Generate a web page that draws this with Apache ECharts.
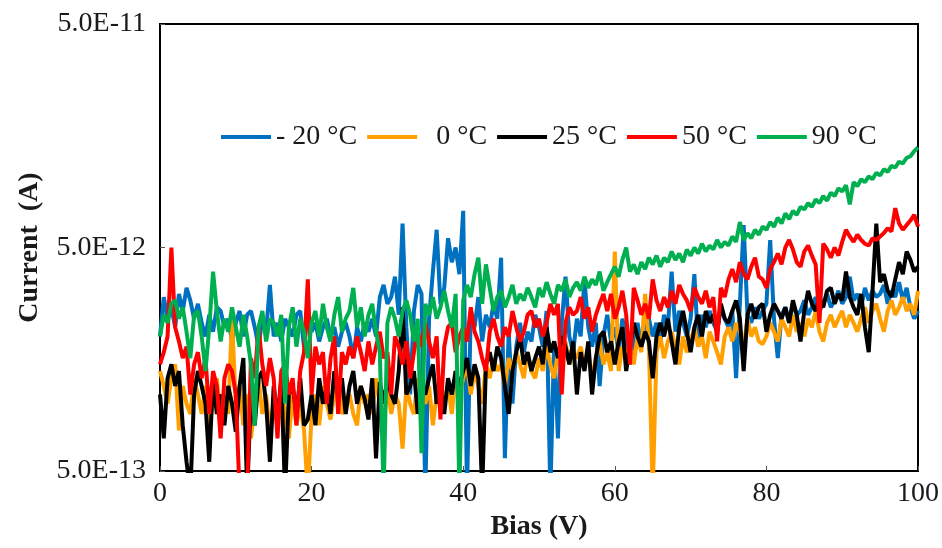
<!DOCTYPE html>
<html lang="en" style="height: 100%">
<head>
    <meta http-equiv="Content-Type" content="text/html; charset=utf-8"/>
    <title>Current vs Bias</title>
    <script type="text/javascript" src="https://cdn.jsdelivr.net/npm/echarts@6/dist/echarts.min.js"></script>
</head>
<body style="height: 100%; margin: 0; background: #fff">
<div id="container" style="width: 942px; height: 548px"></div>
<script type="text/javascript">
    // bias sweep 0..100 V, one reading every 0.5 V
    var biasStep = 0.5;
    var xTicks = [0, 20, 40, 60, 80, 100];
    var yTickLabels = ['5.0E-13', '5.0E-12', '5.0E-11'];
    var seriesNames = ['- 20 °C', '  0 °C', '25 °C', '50 °C', '90 °C'];
    var seriesColors = ['#0070C0', '#FFA000', '#000000', '#FF0000', '#00B050'];

    // current readings in pA (1 pA = 1E-12 A)
    var curM20 = [
        2.0, 3.0, 2.4, 2.7, 2.2, 3.1, 2.6, 3.3, 2.9, 2.4,
        2.8, 2.3, 2.0, 2.5, 2.1, 2.7, 2.6, 2.2, 2.4, 1.9,
        2.3, 2.6, 2.0, 2.5, 2.6, 2.2, 1.8, 2.4, 2.1, 3.4,
        2.0, 2.3, 1.9, 2.4, 2.2, 2.0, 2.5, 2.6, 1.8, 2.6,
        2.1, 2.3, 1.9, 2.2, 2.4, 2.0, 2.2, 1.8, 2.1, 2.3,
        2.0, 1.6, 2.2, 1.9, 2.3, 2.1, 2.4, 2.0, 3.0, 3.4,
        2.8, 3.0, 3.7, 2.5, 6.4, 2.2, 1.1, 2.6, 3.4, 3.1,
        0.4, 2.4, 3.9, 6.0, 2.8, 3.3, 5.5, 4.3, 5.0, 3.8,
        7.3, 0.4, 2.6, 2.2, 3.0, 1.9, 2.5, 2.2, 2.8, 2.4,
        4.5, 0.57, 2.1, 1.0, 1.8, 2.3, 1.7, 2.1, 1.9, 2.5,
        2.2, 1.8, 2.6, 0.4, 1.9, 0.7, 2.3, 3.7, 2.0, 1.7,
        2.4, 2.0, 3.6, 2.2, 1.8, 2.3, 1.2, 2.0, 2.5, 1.9,
        2.2, 1.7, 2.4, 2.0, 1.5, 1.9, 2.3, 1.8, 2.1, 2.4,
        2.0, 2.3, 1.9, 2.5, 2.2, 3.9, 2.1, 2.6, 2.3, 2.0,
        2.4, 3.8, 1.8, 2.5, 2.2, 2.6, 2.3, 2.1, 2.7, 2.4,
        2.2, 2.6, 1.3, 2.8, 6.3, 2.5, 2.3, 2.7, 2.4, 2.6,
        2.8, 5.4, 2.4, 1.6, 2.5, 2.7, 2.3, 2.8, 2.5, 2.6,
        2.9, 2.5, 2.7, 3.0, 2.6, 2.8, 3.1, 2.7, 2.9, 3.2,
        2.8, 3.0, 3.7, 2.9, 3.1, 2.7, 3.3, 2.9, 3.2, 3.0,
        3.1, 3.4, 2.8, 3.2, 3.0, 3.5, 2.9, 3.3, 2.7, 2.4,
        2.6
    ];
    var cur0 = [
        1.4, 1.2, 1.0, 1.3, 1.5, 0.76, 1.2, 1.0, 0.9, 1.3,
        1.1, 0.9, 1.2, 0.8, 1.0, 1.3, 0.85, 1.1, 0.9, 2.4,
        1.0, 1.2, 0.8, 1.1, 0.7, 1.0, 1.3, 0.9, 1.1, 0.75,
        1.0, 0.8, 1.2, 0.9, 0.7, 1.1, 0.8, 1.0, 0.76, 0.4,
        0.9, 1.1, 0.8, 1.2, 1.0, 0.85, 1.1, 1.3, 0.9, 1.0,
        1.1, 0.9, 0.8, 1.2, 1.0, 1.1, 0.9, 1.3, 1.0, 0.8,
        1.2, 0.9, 1.1, 1.0, 0.63, 1.2, 1.0, 0.9, 1.3, 1.1,
        1.0, 1.2, 0.8, 1.1, 1.3, 1.0, 1.2, 0.9, 1.4, 1.1,
        1.3, 1.5, 1.1, 1.4, 1.2, 1.0, 1.5, 1.3, 1.6, 1.4,
        1.5, 1.2, 1.6, 1.4, 1.7, 1.5, 1.3, 1.7, 1.4, 1.3,
        1.6, 1.4, 1.8, 1.5, 1.3, 1.7, 1.6, 1.9, 1.5, 1.7,
        1.6, 1.8, 1.5, 1.7, 1.3, 1.6, 1.9, 1.5, 1.7, 1.4,
        4.8, 1.4, 1.8, 1.6, 1.9, 1.5, 2.0, 1.7, 3.1, 1.8,
        0.4, 1.7, 2.0, 1.6, 1.9, 2.1, 1.8, 1.5, 2.0, 1.7,
        1.9, 2.2, 1.8, 2.0, 1.6, 2.1, 1.9, 1.7, 1.5, 2.0,
        2.2, 1.9, 2.3, 2.1, 1.8, 2.4, 2.0, 2.2, 1.9, 1.85,
        2.0, 2.3, 2.1, 1.9, 2.4, 2.2, 2.0, 2.5, 2.1, 2.3,
        2.0, 2.4, 2.2, 2.6, 2.1, 1.9, 2.3, 2.5, 2.2, 2.4,
        2.6, 2.2, 2.5, 2.3, 2.1, 2.4, 2.7, 2.3, 2.6, 2.8,
        2.4, 2.1, 2.6, 2.9, 2.5, 2.7, 3.0, 2.6, 2.8, 2.5,
        3.2
    ];
    var cur25 = [
        1.1, 0.7, 1.3, 1.5, 1.2, 1.4, 0.8, 0.55, 0.4, 1.1,
        1.4, 1.2, 1.0, 0.55, 1.3, 0.9, 1.1, 0.8, 1.2, 1.0,
        0.75, 1.2, 1.6, 0.4, 1.1, 0.8, 1.3, 1.4, 1.0, 0.55,
        1.2, 0.85, 1.3, 0.4, 1.1, 1.2, 0.9, 1.3, 0.8, 0.85,
        1.1, 0.8, 1.3, 1.0, 1.2, 0.9, 1.4, 1.1, 1.3, 0.9,
        1.2, 1.4, 1.0, 1.2, 1.05, 0.85, 1.3, 0.57, 1.25, 1.0,
        1.3, 1.1, 1.0, 1.4, 2.7, 1.1, 1.2, 1.4, 0.9, 1.2,
        1.1, 1.3, 1.5, 1.0, 1.2, 0.9, 1.3, 1.1, 1.4, 1.2,
        1.4, 1.6, 1.2, 1.5, 1.3, 0.4, 1.5, 1.7, 1.4, 1.8,
        1.6, 1.2, 0.9, 1.4, 1.7, 2.0, 1.5, 1.7, 1.4, 1.6,
        1.8, 1.5, 2.2, 1.7, 1.9, 1.6, 2.0, 1.8, 1.5, 1.9,
        1.1, 1.7, 1.4, 1.9, 1.1, 1.6, 2.0, 2.1, 1.7, 1.9,
        1.5, 1.9, 2.2, 1.4, 1.8, 2.3, 2.0, 1.8, 2.1, 1.9,
        1.3, 2.0, 2.3, 2.0, 2.4, 1.9, 1.5, 2.2, 2.6, 2.1,
        1.7, 2.2, 2.5, 2.0, 2.6, 2.3, 2.5, 2.1, 2.8, 2.4,
        2.3, 2.6, 2.9, 2.4, 1.4, 2.5, 2.8, 2.4, 2.7, 2.8,
        2.1, 2.5, 2.8, 2.6, 2.4, 2.7, 2.3, 2.9, 2.5, 1.9,
        2.6, 3.2, 2.8, 2.6, 3.0, 2.7, 3.2, 3.3, 2.8, 3.1,
        2.9, 3.9, 3.0, 2.7, 2.5, 3.1, 2.2, 1.7, 3.2, 6.4,
        3.5, 3.8, 3.2, 3.0, 3.6, 4.3, 3.8, 4.8, 4.4, 3.9,
        4.1
    ];
    var cur50 = [
        1.5, 1.7, 2.0, 5.0, 2.2, 1.9, 1.6, 1.8, 1.1, 1.5,
        1.7, 1.3, 1.6, 0.9, 1.4, 1.2, 0.7, 1.3, 1.5, 1.4,
        1.1, 0.4, 0.4, 0.4, 1.6, 1.3, 2.2, 1.5, 1.2, 1.6,
        1.3, 0.7, 1.4, 1.5, 1.1, 1.3, 0.8, 1.4, 1.7, 3.6,
        1.1, 1.8, 1.5, 1.7, 1.0, 1.6, 2.0, 0.9, 1.7, 1.5,
        1.8, 1.6, 2.0, 1.7, 1.4, 1.9, 1.5, 1.8, 2.1, 1.6,
        1.7, 1.1, 2.0, 1.8, 1.5, 1.9, 1.3, 1.7, 2.1, 1.8,
        2.3, 1.9, 1.6, 2.0, 0.85, 1.8, 2.2, 2.3, 1.7, 2.0,
        2.2, 1.9, 2.7, 2.1, 1.9, 1.6, 1.4, 2.1, 2.4, 2.0,
        1.8, 2.2, 2.0, 2.6, 2.2, 1.9, 2.1, 2.5, 2.6, 2.2,
        2.4, 2.0, 2.3, 2.8, 2.5, 2.8, 1.1, 2.3, 2.7, 2.5,
        2.6, 3.0, 2.4, 2.7, 2.1, 2.5, 2.8, 3.1, 2.6, 3.1,
        2.4, 2.7, 3.2, 2.5, 1.5, 3.3, 2.9, 2.5, 2.8, 2.4,
        3.6, 2.9, 2.6, 3.0, 2.7, 3.2, 2.8, 3.4, 3.1, 2.9,
        2.6, 3.3, 3.0, 2.8, 3.2, 2.7, 3.0, 1.9, 3.3, 3.0,
        3.6, 4.0, 3.5, 4.3, 3.8, 3.6, 4.1, 4.5, 3.7, 3.6,
        3.3, 4.0, 4.3, 4.7, 4.2, 5.0, 5.4, 4.9, 4.3, 4.1,
        4.8, 5.1, 4.6, 4.2, 2.3, 5.2, 4.9, 4.5, 5.0, 4.6,
        5.3, 6.0, 5.6, 5.3, 5.7, 5.4, 5.2, 5.1, 5.5, 5.4,
        5.6, 5.8, 6.1, 5.9, 7.5, 6.4, 6.0, 6.3, 6.6, 7.0,
        6.2
    ];
    var cur90 = [
        2.0, 2.5, 2.3, 2.8, 2.9, 2.4, 2.7, 2.1, 1.6, 2.5,
        2.6, 2.0, 1.4, 2.2, 3.9, 2.6, 1.9, 2.4, 2.1, 2.7,
        2.2, 1.8, 2.5, 2.0, 1.5, 0.8, 2.2, 2.6, 1.9, 2.4,
        2.3, 2.0, 2.5, 1.0, 2.2, 2.7, 1.8, 2.4, 2.1, 1.6,
        2.3, 2.6, 2.0, 2.8, 2.2, 1.9, 2.5, 3.0, 2.1, 2.4,
        2.6, 3.3, 2.2, 2.7, 2.0, 2.5, 2.8, 2.1, 1.7, 0.4,
        2.3, 2.7, 2.4, 2.0, 2.6, 2.9, 2.5, 1.9, 2.4, 0.6,
        2.8, 2.5, 3.0, 2.4, 2.7, 3.2, 2.6, 2.2, 3.1, 0.4,
        2.9, 3.4, 3.0, 3.8, 4.5, 2.8, 4.2, 3.3, 2.6, 3.0,
        3.2, 2.7, 3.0, 3.4, 2.8, 3.1, 2.9, 3.3, 3.0, 2.7,
        3.3, 3.0, 3.5, 3.1, 2.8, 3.4, 3.2, 3.6, 3.0, 3.3,
        3.5, 3.2, 3.7, 3.3, 3.6, 3.4, 3.9, 3.2, 3.5, 3.8,
        4.1, 3.7, 4.4, 5.0, 3.9, 4.2, 3.8, 4.3, 4.0, 4.5,
        4.2, 4.6, 4.1, 4.5, 4.3, 4.8, 4.4, 4.7, 4.3, 4.9,
        4.6, 5.0, 4.7, 5.2, 4.8, 5.1, 4.9, 5.4, 5.0, 5.3,
        5.1, 5.6, 5.3, 6.5, 5.4, 5.8, 5.5, 6.0, 5.7, 6.2,
        6.0, 6.5, 6.2, 6.8, 6.4, 7.1, 6.7, 7.3, 7.0, 7.6,
        7.4, 7.9, 7.6, 8.2, 7.9, 8.5, 8.1, 8.8, 8.5, 9.2,
        8.9, 9.5, 7.8, 9.8, 9.4, 10.1, 9.8, 10.4, 10.1, 10.8,
        10.5, 11.2, 10.9, 11.6, 11.4, 12.1, 11.9, 12.6, 12.8, 13.5,
        14.0
    ];
    var currents = [curM20, cur0, cur25, cur50, cur90];

    // the y axis is a log axis counted in units of 5E-13 A (bottom of the plot)
    var unitA = 5e-13;
    function toPoints(arr) {
        return arr.map(function (pA, i) {
            return [i * biasStep, pA * 1e-12 / unitA];
        });
    }

    var serifFont = '"Liberation Serif", "Times New Roman", serif';
    var dom = document.getElementById("container");
    var myChart = echarts.init(dom, null, {renderer: 'canvas'});

    var series = seriesNames.map(function (name, k) {
        return {
            name: name,
            type: 'line',
            data: toPoints(currents[k]),
            showSymbol: false,
            symbol: 'none',
            clip: true,
            lineStyle: {width: 4, color: seriesColors[k]},
            itemStyle: {color: seriesColors[k]},
            emphasis: {disabled: true}
        };
    });

    var option = {
        animation: false,
        backgroundColor: '#fff',
        grid: {
            left: 160, right: 24, top: 24, bottom: 77,
            show: true, borderColor: '#000', borderWidth: 2
        },
        legend: {
            left: 216, top: 118,
            icon: 'rect', itemWidth: 50, itemHeight: 4, itemGap: 10,
            data: seriesNames,
            textStyle: {fontFamily: serifFont, fontSize: 28, color: '#1a1a1a'}
        },
        xAxis: {
            type: 'value', min: xTicks[0], max: xTicks[xTicks.length - 1], interval: 20,
            name: 'Bias (V)', nameLocation: 'middle', nameGap: 42,
            nameTextStyle: {fontFamily: serifFont, fontSize: 28, fontWeight: 'bold', color: '#1a1a1a'},
            axisLine: {lineStyle: {color: '#000', width: 2}},
            axisTick: {inside: true, length: 5, lineStyle: {color: '#555'}},
            axisLabel: {fontFamily: serifFont, fontSize: 28, color: '#1a1a1a', margin: 9},
            splitLine: {show: false}
        },
        yAxis: {
            type: 'log', logBase: 10, min: 1, max: 100,
            name: 'Current  (A)', nameLocation: 'middle', nameGap: 116, nameRotate: 90,
            nameTextStyle: {fontFamily: serifFont, fontSize: 28, fontWeight: 'bold', color: '#1a1a1a'},
            axisLine: {lineStyle: {color: '#000', width: 2}},
            axisTick: {inside: true, length: 5, lineStyle: {color: '#555'}},
            axisLabel: {
                fontFamily: serifFont, fontSize: 28, color: '#1a1a1a', margin: 14,
                formatter: function (v) {
                    var idx = Math.round(Math.log10(v));
                    return yTickLabels[idx] || '';
                }
            },
            minorTick: {show: false},
            splitLine: {show: false}
        },
        series: series
    };
    myChart.setOption(option, true);
</script>
</body>
</html>
